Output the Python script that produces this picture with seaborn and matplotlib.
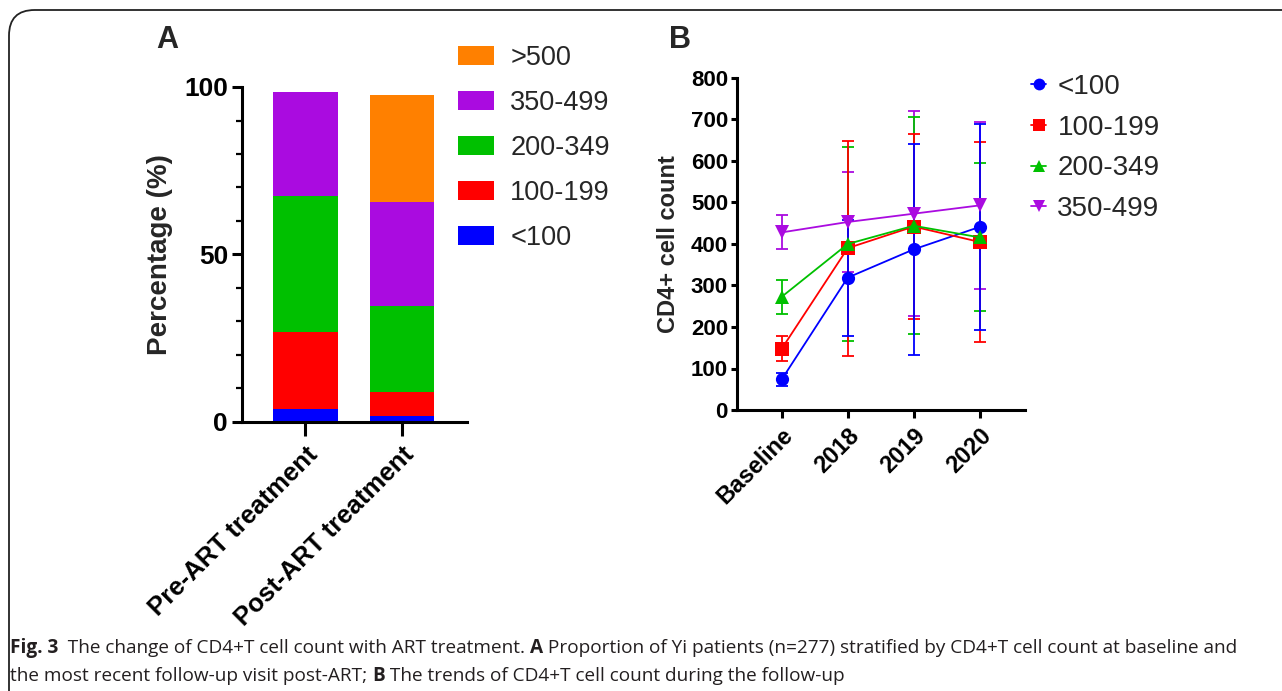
import numpy as np
import pandas as pd
import matplotlib
matplotlib.use("Agg")
import matplotlib.pyplot as plt
import seaborn as sns
from matplotlib.patches import FancyBboxPatch, Patch
from matplotlib.lines import Line2D

# ---------------- data ----------------
# Panel A: percentage of patients per CD4+T stratum
groups_a = ["Pre-ART treatment", "Post-ART treatment"]
strata = ["<100", "100-199", "200-349", "350-499", ">500"]
pct_lt100 = [3.8, 1.8]
pct_100_199 = [23.0, 7.1]
pct_200_349 = [40.8, 25.8]
pct_350_499 = [30.9, 30.9]
pct_gt500 = [0.0, 31.9]

# Panel B: mean CD4+ count (+/- SD) over follow-up
times = ["Baseline", "2018", "2019", "2020"]
series_b = ["<100", "100-199", "200-349", "350-499"]
mean_lt100 = [74, 319, 387, 441]
sd_lt100 = [16, 140, 255, 248]
mean_100_199 = [148, 390, 442, 405]
sd_100_199 = [30, 259, 223, 240]
mean_200_349 = [273, 400, 444, 416]
sd_200_349 = [41, 233, 262, 178]
mean_350_499 = [428, 453, 473, 493]
sd_350_499 = [41, 121, 247, 201]

colors = {"<100": "#0000ff", "100-199": "#ff0000", "200-349": "#00c000",
          "350-499": "#aa0be0", ">500": "#ff8000"}
markers = {"<100": "o", "100-199": "s", "200-349": "^", "350-499": "v"}

# ---------------- style ----------------
sns.set_theme(style="ticks")
plt.rcParams["font.family"] = ["Liberation Sans", "DejaVu Sans"]
plt.rcParams["axes.linewidth"] = 2.2
plt.rcParams["xtick.major.width"] = 2.2
plt.rcParams["ytick.major.width"] = 2.2
plt.rcParams["ytick.minor.width"] = 1.6
plt.rcParams["xtick.major.size"] = 7
plt.rcParams["ytick.major.size"] = 7
plt.rcParams["ytick.minor.size"] = 4
plt.rcParams["xtick.color"] = "black"
plt.rcParams["ytick.color"] = "black"
plt.rcParams["axes.edgecolor"] = "black"

W, H = 1282, 691
fig = plt.figure(figsize=(W / 100, H / 100), dpi=100)

def fbox(x0, y0, x1, y1):
    # pixel box (top-left origin) -> figure fraction rect
    return [x0 / W, 1 - y1 / H, (x1 - x0) / W, (y1 - y0) / H]

# ---------------- panel A ----------------
axA = fig.add_axes(fbox(242, 87, 467, 422))
df_a = pd.DataFrame({"group": groups_a, "<100": pct_lt100, "100-199": pct_100_199,
                     "200-349": pct_200_349, "350-499": pct_350_499, ">500": pct_gt500})
cum = df_a[strata].cumsum(axis=1)
for s in strata[::-1]:
    sns.barplot(x=df_a["group"], y=cum[s], color=colors[s], width=0.667,
                linewidth=0, saturation=1, ax=axA)
axA.set_xlim(-0.66, 1.68)
axA.set_ylim(0, 100)
axA.set_yticks([0, 50, 100])
axA.set_yticks(np.arange(0, 101, 10), minor=True)
axA.set_xlabel("")
axA.set_ylabel("Percentage (%)", fontsize=20, fontweight="bold", labelpad=8)
axA.tick_params(axis="y", labelsize=19, pad=3)
for t in axA.get_yticklabels():
    t.set_fontweight("bold")
axA.set_xticks([0, 1])
axA.set_xticklabels(groups_a, rotation=45, ha="right", rotation_mode="anchor",
                    fontsize=18.5, fontweight="bold")
sns.despine(ax=axA)
axA.tick_params(axis="x", length=10, pad=5)

leg_a = [Patch(facecolor=colors[s], edgecolor="none", label=s) for s in strata[::-1]]
fig.legend(handles=leg_a, loc="upper left", bbox_to_anchor=(458 / W, 1 - 45 / H),
           frameon=False, fontsize=19.5, handlelength=1.33, handleheight=0.67,
           handletextpad=0.6, labelspacing=0.7, borderpad=0, borderaxespad=0)
fig.text(167 / W, 1 - 40 / H, "A", fontsize=22, fontweight="bold", va="center", ha="center")

# ---------------- panel B ----------------
axB = fig.add_axes(fbox(737, 78, 1025, 410))
means = [mean_lt100, mean_100_199, mean_200_349, mean_350_499]
sds = [sd_lt100, sd_100_199, sd_200_349, sd_350_499]
df_b = pd.DataFrame({
    "x": np.tile(np.arange(len(times)), len(series_b)),
    "count": np.concatenate(means),
    "sd": np.concatenate(sds),
    "group": np.repeat(series_b, len(times)),
})
for s, m, e in zip(series_b[::-1], means[::-1], sds[::-1]):
    axB.errorbar(np.arange(len(times)), m, yerr=e, fmt="none", ecolor=colors[s],
                 elinewidth=1.3, capsize=4, capthick=1.3)
sns.lineplot(data=df_b, x="x", y="count", hue="group", style="group",
             palette=colors, markers=markers, dashes=False, markersize=9.5,
             markeredgewidth=0, linewidth=1.3, legend=False, ax=axB)
axB.set_xlim(-0.68, 3.69)
axB.set_ylim(0, 800)
axB.set_yticks(np.arange(0, 801, 100))
axB.set_xticks(np.arange(len(times)))
axB.set_xticklabels(times, rotation=45, ha="right", rotation_mode="anchor",
                    fontsize=17, fontweight="bold")
axB.tick_params(axis="y", labelsize=16, pad=2, length=4.5)
for t in axB.get_yticklabels():
    t.set_fontweight("bold")
axB.set_xlabel("")
axB.set_ylabel("CD4+ cell count", fontsize=17, fontweight="bold", labelpad=8)
sns.despine(ax=axB)
axB.tick_params(axis="x", pad=4, length=6)

leg_b = [Line2D([0], [0], color=colors[s], marker=markers[s], markersize=8.5,
                markeredgewidth=0, linewidth=1.3, label=s) for s in series_b]
fig.legend(handles=leg_b, loc="upper left", bbox_to_anchor=(1031 / W, 1 - 74 / H),
           frameon=False, fontsize=20, handlelength=0.55, handletextpad=0.4,
           labelspacing=0.53, borderpad=0, borderaxespad=0)
fig.text(680 / W, 1 - 40 / H, "B", fontsize=22, fontweight="bold", va="center", ha="center")

# ---------------- caption ----------------
cap_font = ["Open Sans", "DejaVu Sans"]
cap_color = "#231f20"
renderer = fig.canvas.get_renderer()

def caption_line(parts, x, y, size=13.7):
    for txt, bold in parts:
        t = fig.text(x / W, 1 - y / H, txt, fontsize=size, family=cap_font,
                     fontweight="bold" if bold else "normal", color=cap_color,
                     va="center", ha="left")
        x += t.get_window_extent(renderer).width

caption_line([("Fig. 3", True), ("  The change of CD4+T cell count with ART treatment. ", False),
              ("A", True),
              (" Proportion of Yi patients (n=277) stratified by CD4+T cell count at baseline and", False)],
             10, 648)
caption_line([("the most recent follow-up visit post-ART; ", False), ("B", True),
              (" The trends of CD4+T cell count during the follow-up", False)], 10, 676)

# rounded frame around the figure
frame = FancyBboxPatch((9 / W, -0.05), 1.1, 1 - 10 / H + 0.05,
                       boxstyle="round,pad=0,rounding_size=0.02",
                       transform=fig.transFigure, fill=False, edgecolor="#222222",
                       linewidth=1.3, mutation_aspect=W / H, clip_on=False)
fig.patches.append(frame)

fig.savefig("out.png", dpi=100)
